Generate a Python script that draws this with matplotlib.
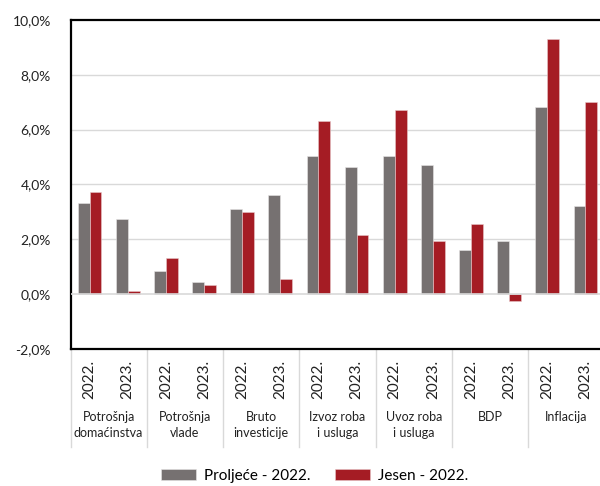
import matplotlib.pyplot as plt
import matplotlib.transforms as mtransforms
import numpy as np

plt.rcParams['font.family'] = ['Lato', 'DejaVu Sans']

groups = ["Potrošnja\ndomaćinstva", "Potrošnja\nvlade", "Bruto\ninvesticije",
          "Izvoz roba\ni usluga", "Uvoz roba\ni usluga", "BDP", "Inflacija"]
years = ["2022.", "2023."]
proljece = [3.32, 2.74, 0.84, 0.44, 3.10, 3.62, 5.02, 4.62, 5.02, 4.72, 1.62, 1.92, 6.82, 3.22]
jesen = [3.72, 0.12, 1.30, 0.32, 3.00, 0.54, 6.30, 2.14, 6.72, 1.92, 2.54, -0.26, 9.30, 7.02]
yticks = [-2, 0, 2, 4, 6, 8, 10]

grey = "#767171"
red = "#A51C24"

fig = plt.figure(figsize=(6, 4.86), dpi=100)
ax = fig.add_axes([0.1175, 0.282, 0.89, 0.677])

x = np.arange(len(proljece))
w = 0.31
ax.bar(x - w / 2, proljece, w, color=grey, edgecolor="#e8e6e6", linewidth=0.4,
       label="Proljeće - 2022.", zorder=2)
ax.bar(x + w / 2, jesen, w, color=red, edgecolor="#e8c8ca", linewidth=0.4,
       label="Jesen - 2022.", zorder=2)

ax.set_xlim(-0.5, len(x) - 0.5)
ax.set_ylim(-2, 10)
ax.set_yticks(yticks)
ax.set_yticklabels([f"{v:.1f}%".replace(".", ",") for v in yticks], fontsize=10, color="#222222")
ax.tick_params(axis="y", length=0, pad=14)
for v in [2, 4, 6, 8]:
    ax.axhline(v, color="#d9d9d9", lw=1, zorder=1)
ax.axhline(0, color="#d9d9d9", lw=1.2, zorder=3)

ax.set_xticks(x)
ax.set_xticklabels(years * len(groups), rotation=90, fontsize=11, color="#222222")
ax.tick_params(axis="x", length=0, pad=8)

for s in ["left", "top", "bottom"]:
    ax.spines[s].set_linewidth(1.6)
    ax.spines[s].set_color("black")
ax.spines["right"].set_visible(False)

trans = mtransforms.blended_transform_factory(ax.transData, ax.transAxes)
for i, g in enumerate(groups):
    ax.text(2 * i + 0.5, -0.19, g, transform=trans, ha="center", va="top",
            fontsize=9, color="#222222", linespacing=1.35)
for i in range(len(groups)):
    ax.plot([2 * i - 0.5, 2 * i - 0.5], [0, -0.298], transform=trans, color="#d9d9d9",
            lw=1, clip_on=False)

fig.legend(loc="center", bbox_to_anchor=(0.524, 0.021), ncol=2, frameon=False,
           fontsize=11, handlelength=2.3, handleheight=0.8, columnspacing=1.6,
           handletextpad=0.5)

fig.savefig("out.png", dpi=100)
